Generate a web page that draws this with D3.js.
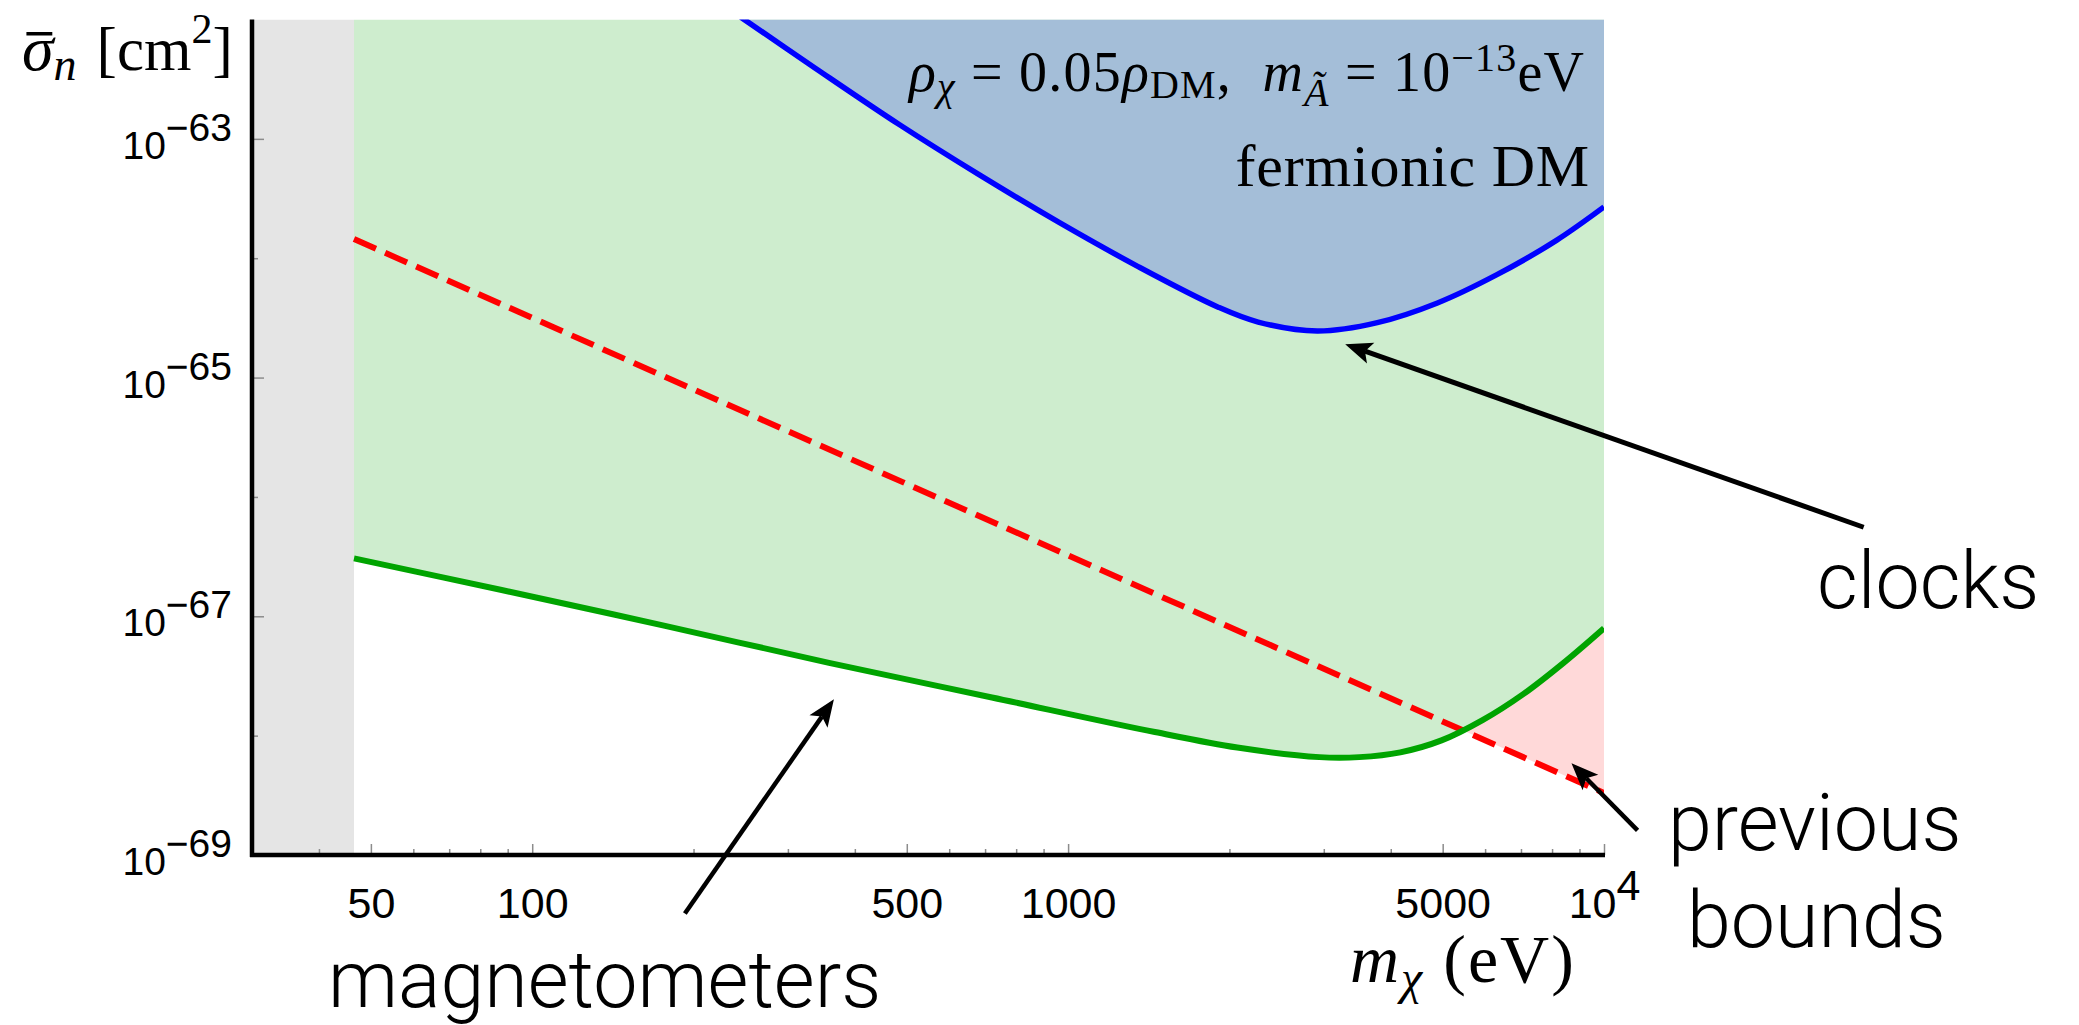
<!DOCTYPE html>
<html>
<head>
<meta charset="utf-8">
<script src="https://cdn.jsdelivr.net/npm/d3@7"></script>
<style>
body { margin: 0; background: #fff; }
svg { display: block; }
text { white-space: pre; }
</style>
</head>
<body>
<script>
// masses in eV, cross sections given as log10(sigma_n / cm^2)
var clocksMass     = [245, 338, 484, 682, 962, 1351, 1906, 2263, 2917, 3776, 4889, 6300, 8153, 10000];
var clocksLogSigma = [-61.98, -62.41, -62.88, -63.30, -63.70, -64.07, -64.41, -64.535, -64.61, -64.54, -64.375, -64.14, -63.85, -63.57];

var magnetMass     = [46.5, 87.7, 177, 358, 721, 1452, 2069, 2944, 3494, 4168, 4974, 5934, 7079, 8406, 10000];
var magnetLogSigma = [-66.515, -66.78, -67.08, -67.39, -67.68, -67.97, -68.10, -68.18, -68.18, -68.14, -68.04, -67.87, -67.65, -67.39, -67.10];

var prevMass     = [46.5, 100, 1000, 10000];
var prevLogSigma = [-63.84, -64.50, -66.49, -68.48];

var excludedMass = [30, 46.5];   // grey band

var massMajor = [50, 100, 500, 1000, 5000, 10000];
var massMinor = [40, 60, 70, 80, 90, 200, 300, 400, 600, 700, 800, 900, 2000, 3000, 4000, 6000, 7000, 8000, 9000];
var sigmaMajorExp = [-63, -65, -67, -69];
var sigmaMinorExp = [-64, -66, -68];

// arrows: [tail, tip] in (mass, log10 sigma)
var arrowClocks = [[30520, -66.254], [3289, -64.72]];
var arrowMagnet = [[192.7, -69.49], [365.6, -67.696]];
var arrowPrev   = [[11551, -68.794], [8696, -68.232]];

var W = 2079, H = 1025;
var pLeft = 252, pRight = 1604, pTop = 19.5, pBottom = 855;

var x = d3.scaleLog().domain([30, 1e4]).range([pLeft, pRight]);
var y = d3.scaleLog().domain([1e-69, 1e-62]).range([pBottom, pTop]);

var px = function(d) { return x(d[0]); };
var py = function(d) { return y(Math.pow(10, d[1])); };

function zipPts(a, b) { return a.map(function(v, i) { return [v, b[i]]; }); }
var clocks = zipPts(clocksMass, clocksLogSigma);
var magnet = zipPts(magnetMass, magnetLogSigma);
var prev = zipPts(prevMass, prevLogSigma);

var svg = d3.select("body").append("svg")
    .attr("width", W)
    .attr("height", H);

var defs = svg.append("defs");
defs.append("clipPath").attr("id", "plot")
  .append("rect")
    .attr("x", pLeft).attr("y", pTop)
    .attr("width", pRight - pLeft).attr("height", pBottom - pTop);

var smooth = d3.curveCatmullRom.alpha(0.5);

defs.append("clipPath").attr("id", "underGreen")
  .append("path")
    .attr("d", d3.area().x(px).y0(py).y1(pBottom).curve(smooth)(magnet));

var g = svg.append("g").attr("clip-path", "url(#plot)");

g.append("rect")
    .attr("x", x(excludedMass[0]))
    .attr("y", pTop)
    .attr("width", x(excludedMass[1]) - x(excludedMass[0]))
    .attr("height", pBottom - pTop)
    .attr("fill", "#e5e5e5");

// magnetometer reach: everything above the green curve
g.append("path")
    .attr("d", d3.area().x(px).y0(py).y1(pTop).curve(smooth)(magnet))
    .attr("fill", "#ceedce");

// previous bounds beaten only where green is below red
g.append("g").attr("clip-path", "url(#underGreen)")
  .append("path")
    .attr("d", d3.area().x(px).y0(py).y1(pTop)(prev))
    .attr("fill", "#ffd9d9");

g.append("path")
    .attr("d", d3.area().x(px).y0(py).y1(pTop).curve(smooth)(clocks))
    .attr("fill", "#a4bed8");

g.append("path")
    .attr("d", d3.line().x(px).y(py)(prev))
    .attr("fill", "none")
    .attr("stroke", "#ff0000")
    .attr("stroke-width", 6)
    .attr("stroke-dasharray", "24,10");

g.append("path")
    .attr("d", d3.line().x(px).y(py).curve(smooth)(magnet))
    .attr("fill", "none")
    .attr("stroke", "#00a400")
    .attr("stroke-width", 6);

g.append("path")
    .attr("d", d3.line().x(px).y(py).curve(smooth)(clocks))
    .attr("fill", "none")
    .attr("stroke", "#0000ff")
    .attr("stroke-width", 5.5);

// axes
function supLabel(sel, base, sup) {
  sel.text(null);
  sel.append("tspan").text(base);
  sel.append("tspan").attr("dy", -18).text(sup);
}

var yMajor = d3.axisLeft(y)
    .tickValues(sigmaMajorExp.map(function(e) { return Math.pow(10, e); }))
    .tickSize(-12).tickSizeOuter(0).tickPadding(20);
var yMinor = d3.axisLeft(y)
    .tickValues(sigmaMinorExp.map(function(e) { return Math.pow(10, e); }))
    .tickSize(-6).tickSizeOuter(0).tickFormat("");

var yg = svg.append("g").attr("transform", "translate(" + pLeft + ",0)").call(yMajor);
svg.append("g").attr("transform", "translate(" + pLeft + ",0)").call(yMinor);

yg.selectAll(".tick text")
    .attr("dy", "0.5em")
    .style("font-family", "'Liberation Sans', Arial, sans-serif")
    .style("font-size", "39px")
    .style("fill", "#000")
    .each(function(d) {
      var e = Math.round(Math.log10(d));
      supLabel(d3.select(this), "10", "\u2212" + Math.abs(e));
    });

var xMajor = d3.axisBottom(x)
    .tickValues(massMajor)
    .tickSize(-11).tickSizeOuter(0).tickPadding(32)
    .tickFormat(function(d) { return d; });
var xMinor = d3.axisBottom(x)
    .tickValues(massMinor)
    .tickSize(-6).tickSizeOuter(0).tickFormat("");

var xg = svg.append("g").attr("transform", "translate(0," + pBottom + ")").call(xMajor);
svg.append("g").attr("transform", "translate(0," + pBottom + ")").call(xMinor);

xg.selectAll(".tick text")
    .style("font-family", "'Liberation Sans', Arial, sans-serif")
    .style("font-size", "43px")
    .style("fill", "#000")
    .each(function(d) {
      if (d === 10000) supLabel(d3.select(this), "10", "4");
    });

svg.selectAll(".domain").remove();
svg.selectAll(".tick line").attr("stroke", "#8c8c8c").attr("stroke-width", 1.5);

svg.append("line")
    .attr("x1", pLeft).attr("x2", pLeft)
    .attr("y1", pTop).attr("y2", pBottom + 2)
    .attr("stroke", "#000").attr("stroke-width", 4.5);
svg.append("line")
    .attr("x1", pLeft - 2).attr("x2", pRight + 1)
    .attr("y1", pBottom).attr("y2", pBottom)
    .attr("stroke", "#000").attr("stroke-width", 4.5);

// math-style text helper: runs with absolute baseline shift
function mathText(xp, yp, runs, anchor, spacing) {
  var t = svg.append("text")
      .attr("x", xp).attr("y", yp)
      .attr("text-anchor", anchor || "start")
      .style("font-family", "'Liberation Serif', 'Times New Roman', serif")
      .style("letter-spacing", (spacing || 0) + "px")
      .style("fill", "#000");
  var last = 0;
  runs.forEach(function(r) {
    var s = r.shift || 0;
    var ts = t.append("tspan")
        .attr("dy", s - last)
        .style("font-size", r.size + "px")
        .style("font-style", r.it ? "italic" : "normal")
        .text(r.t);
    if (r.dx) ts.attr("dx", r.dx);
    last = s;
  });
  return t;
}

// y axis title with barred sigma
var yt = mathText(22, 70, [
  {t: "\u03c3", size: 64, it: true},
  {t: "n", size: 46, it: true, shift: 10},
  {t: "[cm", size: 61, dx: 20},
  {t: "2", size: 42, shift: -27},
  {t: "]", size: 61}
]);
var sExt = yt.node().getExtentOfChar(0);
svg.append("rect")
    .attr("x", sExt.x + sExt.width * 0.14)
    .attr("y", 32)
    .attr("width", sExt.width * 0.82)
    .attr("height", 3.5)
    .attr("fill", "#000");

// x axis title
mathText(1350, 982, [
  {t: "m", size: 68, it: true},
  {t: "\u03c7", size: 48, it: true, shift: 12},
  {t: " (eV)", size: 68}
], "start", 2);

// parameter labels
mathText(909, 91, [
  {t: "\u03c1", size: 56, it: true},
  {t: "\u03c7", size: 40, it: true, shift: 9},
  {t: " = 0.05", size: 56},
  {t: "\u03c1", size: 56, it: true},
  {t: "DM", size: 40, shift: 7},
  {t: ",  ", size: 56},
  {t: "m", size: 56, it: true},
  {t: "\u00c3", size: 40, it: true, shift: 15},
  {t: " = 10", size: 56},
  {t: "\u221213", size: 40, shift: -20},
  {t: "eV", size: 56}
], "start", 1.2);

mathText(1590, 186, [{t: "fermionic DM", size: 60}], "end", 0.8);

// annotations
var sans = "Roboto, 'Helvetica Neue', 'Liberation Sans', sans-serif";
function note(xp, yp, s) {
  svg.append("text")
      .attr("x", xp).attr("y", yp)
      .style("font-family", sans)
      .style("font-weight", 300)
      .style("font-size", "79px")
      .style("fill", "#000")
      .text(s);
}
note(1817, 608, "clocks");
note(1668, 850, "previous");
note(1687, 947, "bounds");
note(328, 1007, "magnetometers");

function arrow(a, w) {
  var p0 = [px(a[0]), py(a[0])], p1 = [px(a[1]), py(a[1])];
  var dx = p1[0] - p0[0], dy = p1[1] - p0[1], len = Math.hypot(dx, dy);
  var ux = dx / len, uy = dy / len, nx = -uy, ny = ux;
  var hl = 27, hw = 11, notch = 6;
  var back = [p1[0] - ux * (hl - notch), p1[1] - uy * (hl - notch)];
  svg.append("line")
      .attr("x1", p0[0]).attr("y1", p0[1])
      .attr("x2", back[0]).attr("y2", back[1])
      .attr("stroke", "#000").attr("stroke-width", w);
  var b = [p1[0] - ux * hl, p1[1] - uy * hl];
  svg.append("path")
      .attr("d", "M" + p1 + "L" + [b[0] + nx * hw, b[1] + ny * hw] +
                 "L" + back + "L" + [b[0] - nx * hw, b[1] - ny * hw] + "Z")
      .attr("fill", "#000");
}
arrow(arrowClocks, 5);
arrow(arrowMagnet, 4.5);
arrow(arrowPrev, 4.5);
</script>
</body>
</html>
